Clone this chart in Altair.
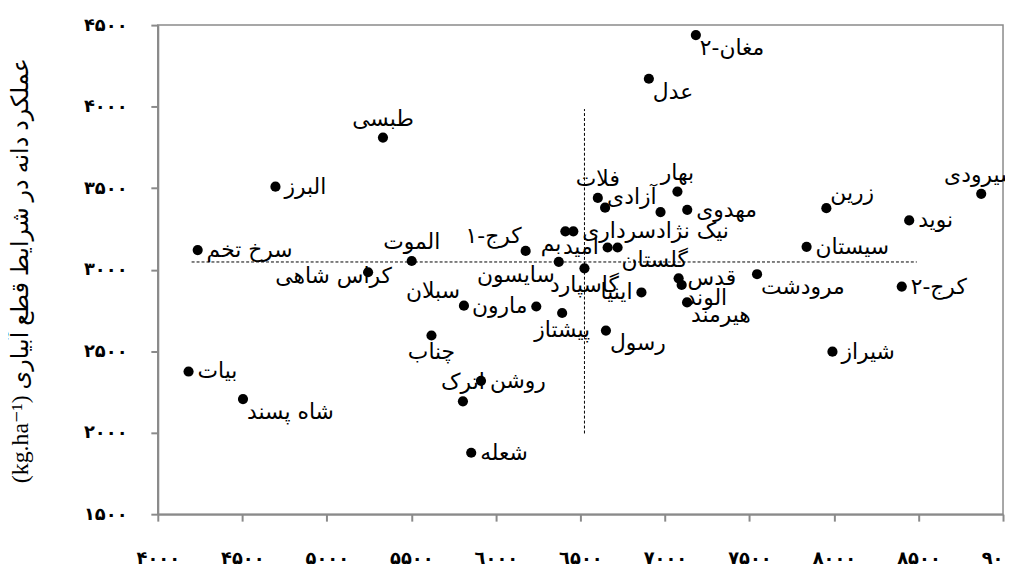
import altair as alt
import pandas as pd

# ---- data ----
NAMES = [
    "طبسی", "البرز", "سرخ تخم", "کراس شاهی", "الموت", "کرج-۱", "بم",
    "نیک نژادسرداری", "فلات", "", "بهار", "آزادی", "مهدوی", "امید",
    "گلستان", "سایسون", "گاسپارد", "اینیا", "قدس", "الوند", "هیرمند",
    "مرودشت", "سیستان", "زرین", "نوید", "شیرودی", "کرج-۲", "شیراز",
    "سبلان", "مارون", "پیشتاز", "رسول", "چناب", "روشن", "اترک", "بیات",
    "شاه پسند", "شعله", "مغان-۲", "عدل",
]
X_VALUES = [
    5332, 4696, 4236, 5244, 5502, 6176, 6411,
    6458, 6603, 6646, 7074, 6974, 7132, 6661,
    6720, 6372, 6524, 6861, 7081, 7099, 7131,
    7545, 7838, 7955, 8445, 8871, 8401, 7991,
    5811, 6239, 6392, 6651, 5619, 5912, 5805, 4182,
    4504, 5854, 7183, 6905,
]
Y_VALUES = [
    3810, 3509, 3120, 2984, 3053, 3115, 3235,
    3235, 3440, 3380, 3479, 3353, 3367, 3136,
    3136, 3048, 3008, 2860, 2947, 2906, 2799,
    2972, 3140, 3377, 3302, 3465, 2896, 2497,
    2779, 2774, 2734, 2626, 2596, 2318, 2192, 2375,
    2206, 1877, 4439, 4171,
]
# which side of its point each label sits on
LABEL_SIDE = [
    "t", "r", "r", "lo", "t", "tl", "bl",
    "r", "t", "r", "t", "tl", "r", "l",
    "br", "bl", "b", "l", "r", "br", "br",
    "br", "r", "tr", "r", "t", "r", "r",
    "tl", "l", "b", "br", "b", "r", "t", "r",
    "br", "r", "br", "br",
]

X_TICKS = [4000, 4500, 5000, 5500, 6000, 6500, 7000, 7500, 8000, 8500, 9000]
X_TICK_LABELS = ["۴۰۰۰", "۴۵۰۰", "۵۰۰۰", "۵۵۰۰", "٦۰۰۰", "٦۵۰۰",
                 "۷۰۰۰", "۷۵۰۰", "۸۰۰۰", "۸۵۰۰", "۹۰۰۰"]
Y_TICKS = [1500, 2000, 2500, 3000, 3500, 4000, 4500]
Y_TICK_LABELS = ["۱۵۰۰", "۲۰۰۰", "۲۵۰۰", "۳۰۰۰", "۳۵۰۰", "۴۰۰۰", "۴۵۰۰"]

MEAN_X = 6524
MEAN_Y = 3047
V_LINE_Y = [1995, 3985]
H_LINE_X = [4200, 8490]

Y_TITLE = "(kg.ha⁻¹) عملکرد دانه در شرایط قطع آبیاری"

# ---- build ----
df = pd.DataFrame({"name": NAMES, "x": X_VALUES, "y": Y_VALUES, "side": LABEL_SIDE})
vline = pd.DataFrame({"x": [MEAN_X], "y": [V_LINE_Y[0]], "y2": [V_LINE_Y[1]]})
hline = pd.DataFrame({"y": [MEAN_Y], "x": [H_LINE_X[0]], "x2": [H_LINE_X[1]]})


def label_expr(values, labels):
    expr = "''"
    for v, l in reversed(list(zip(values, labels))):
        expr = f"datum.value == {v} ? '{l}' : ({expr})"
    return expr


GREY = "#8a8a8a"
FONT = "DejaVu Sans"

xscale = alt.Scale(domain=[4000, 9000], nice=False, zero=False)
yscale = alt.Scale(domain=[1500, 4500], nice=False, zero=False)

xenc = alt.X("x:Q", scale=xscale, axis=alt.Axis(
    values=X_TICKS, labelExpr=label_expr(X_TICKS, X_TICK_LABELS), title=None,
    grid=False, domainColor=GREY, domainWidth=2, tickColor=GREY, tickWidth=2,
    tickSize=7, labelFont=FONT, labelFontWeight="bold", labelFontSize=18,
    labelColor="black", labelPadding=29, labelFlush=False, labelOverlap=False))
yenc = alt.Y("y:Q", scale=yscale, axis=alt.Axis(
    values=Y_TICKS, labelExpr=label_expr(Y_TICKS, Y_TICK_LABELS), title=Y_TITLE,
    grid=False, domainColor=GREY, domainWidth=2, tickColor=GREY, tickWidth=2,
    tickSize=7, labelFont=FONT, labelFontWeight="bold", labelFontSize=18,
    labelColor="black", labelPadding=24, labelFlush=False, labelOverlap=False,
    titleFont="Liberation Serif, DejaVu Sans", titleFontWeight="normal",
    titleFontSize=24, titleColor="black", titleAngle=-90, titleX=-138, titleY=247,
    titleAlign="center", titleBaseline="middle"))

points = alt.Chart(df).mark_circle(size=105, color="black", opacity=1).encode(x=xenc, y=yenc)

rule_v = alt.Chart(vline).mark_rule(color="black", strokeWidth=1, strokeDash=[3, 2]).encode(
    x=alt.X("x:Q", scale=xscale), y=alt.Y("y:Q", scale=yscale), y2="y2:Q")
rule_h = alt.Chart(hline).mark_rule(color="black", strokeWidth=1, strokeDash=[3, 2]).encode(
    y=alt.Y("y:Q", scale=yscale), x=alt.X("x:Q", scale=xscale), x2="x2:Q")

SIDES = {
    "r": dict(align="left", baseline="middle", dx=9, dy=0),
    "l": dict(align="right", baseline="middle", dx=-9, dy=0),
    "lo": dict(align="right", baseline="top", dx=24, dy=-6),
    "t": dict(align="center", baseline="bottom", dx=0, dy=-7),
    "b": dict(align="center", baseline="top", dx=0, dy=7),
    "tr": dict(align="left", baseline="bottom", dx=4, dy=-3),
    "tl": dict(align="right", baseline="bottom", dx=-4, dy=-3),
    "br": dict(align="left", baseline="top", dx=4, dy=3),
    "bl": dict(align="right", baseline="top", dx=-4, dy=3),
}

label_layers = []
for side, opts in SIDES.items():
    label_layers.append(
        alt.Chart(df).transform_filter(alt.datum.side == side)
        .mark_text(font=FONT, fontSize=22, color="black", **opts)
        .encode(x=alt.X("x:Q", scale=xscale), y=alt.Y("y:Q", scale=yscale), text="name:N")
    )

chart = alt.layer(rule_v, rule_h, points, *label_layers).properties(
    width=852, height=493,
    padding={"left": 151, "top": 15, "right": 2, "bottom": 51},
    autosize=alt.AutoSizeParams(type="none"),
).configure_view(stroke=GREY, strokeWidth=1.5)

chart.save("out.html", embed_options={"renderer": "svg", "actions": False})
